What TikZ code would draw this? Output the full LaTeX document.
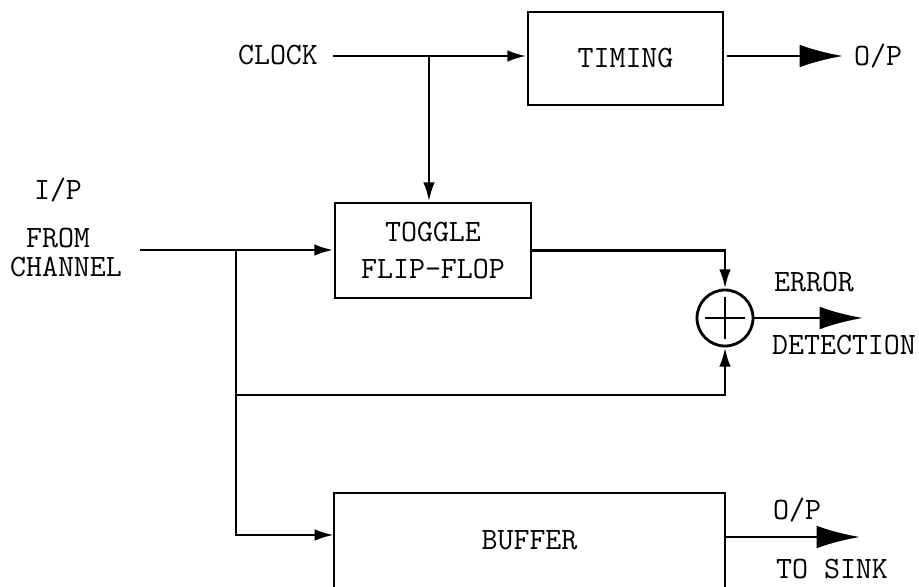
\documentclass[tikz,border=0pt]{standalone}
\usetikzlibrary{arrows.meta}
\begin{document}
\begin{tikzpicture}[x=0.03cm,y=-0.03cm,
  every node/.style={font=\ttfamily\fontsize{26.5}{31}\selectfont, inner sep=0pt},
  blk/.style={draw, line width=2.4pt},
  wire/.style={line width=2.4pt},
  sarrow/.style={wire, -{Latex[length=0.58cm,width=0.35cm]}},
  bigarrow/.style={wire, -{Latex[length=1.3cm,width=0.68cm]}}]
\useasboundingbox (0,0) rectangle (919,587);
\begin{scope}
\clip (0,0) rectangle (919,587);
% blocks
\node[blk, minimum width=5.85cm, minimum height=2.79cm] (timing) at (625.5,58.5) {TIMING};
\node[blk, minimum width=5.88cm, minimum height=2.85cm, align=center] (toggle) at (433,250.5) {TOGGLE\\FLIP-FLOP};
\node[blk, minimum width=11.73cm, minimum height=2.85cm] (buffer) at (529.5,540.5) {BUFFER};
\node[blk, circle, minimum size=1.68cm] (xor) at (725,318) {};
\draw[wire] ([xshift=-0.6cm]xor.center) -- ([xshift=0.6cm]xor.center);
\draw[wire] ([yshift=-0.63cm]xor.center) -- ([yshift=0.63cm]xor.center);
\end{scope}
% labels
\node (clock) at (278,55) {CLOCK};
\node (op1) at (878,56) {O/P};
\node (ip) at (58,190) {I/P};
\node (from) at (58,238) {FROM};
\node (chan) at (66,267) {CHANNEL};
\node (err) at (814,282) {ERROR};
\node (det) at (844,345) {DETECTION};
\node (op2) at (797,510) {O/P};
\node (sink) at (832,569) {TO SINK};
% coordinates
\coordinate (clkstart) at (333,56);
\coordinate (br1) at (429,56);
\coordinate (tout) at (727,56);
\coordinate (tend) at (843,56);
\coordinate (in) at (140,250);
\coordinate (br2) at (236,250);
\coordinate (fb) at (236,395);
\coordinate (bufin) at (334,535);
\coordinate (bout) at (725,537);
\coordinate (bend) at (860,537);
\coordinate (xend) at (863,318);
% connectors
\draw[sarrow] (clkstart) -- (clkstart -| timing.west);
\draw[sarrow] (br1) -- (br1 |- toggle.north);
\draw[bigarrow] (tout) -- (tend);
\draw[sarrow] (in) -- (in -| toggle.west);
\draw[sarrow] (br2) |- (bufin);
\draw[sarrow] (fb) -| (xor.south);
\draw[sarrow] (toggle.east) -| (xor.north);
\draw[bigarrow] (xor.east) -- (xend);
\draw[bigarrow] (bout) -- (bend);
\end{tikzpicture}
\end{document}
